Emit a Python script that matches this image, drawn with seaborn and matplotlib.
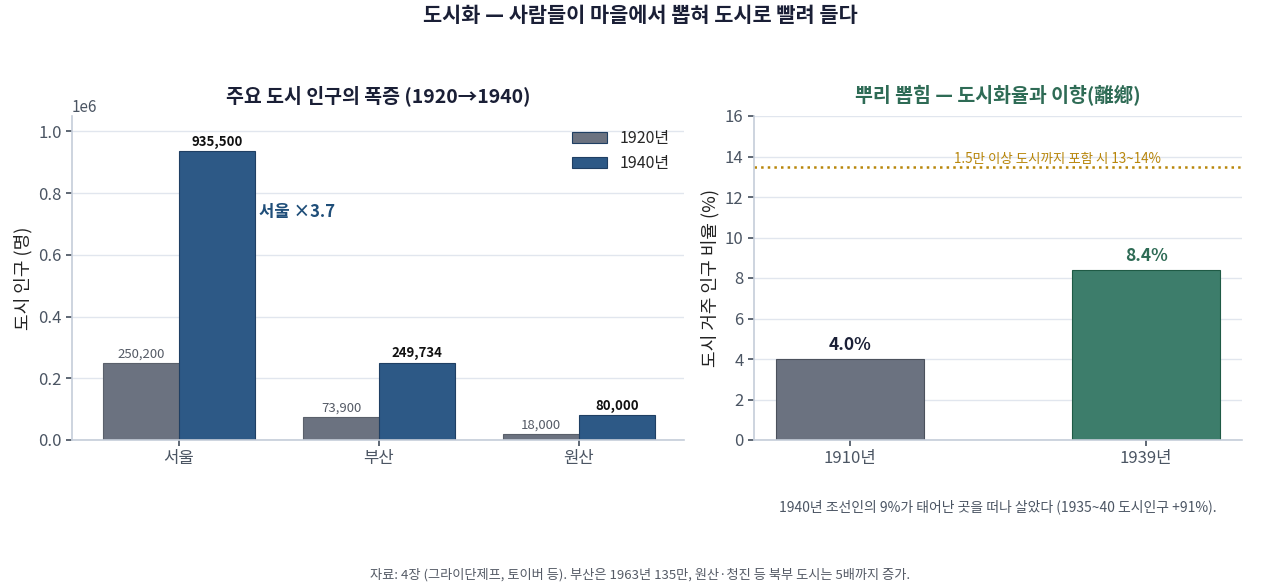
import pandas as pd
import numpy as np
import matplotlib.pyplot as plt
import seaborn as sns

# data
cities = ["서울", "부산", "원산"]
pop_1920 = [250200, 73900, 18000]
pop_1940 = [935500, 249734, 80000]
year_labels = ["1920년", "1940년"]

rate_years = ["1910년", "1939년"]
urban_rate = [4.0, 8.4]
rate_wide = 13.5

sns.set_theme(style="whitegrid")
plt.rcParams['font.family'] = ['Noto Sans CJK KR', 'DejaVu Sans']
plt.rcParams['axes.unicode_minus'] = False

grid_c = "#e1e6ee"
spine_c = "#c5cdd9"
tick_c = "#4b5563"

df = pd.DataFrame({
    "city": cities * 2,
    "year": [year_labels[0]] * 3 + [year_labels[1]] * 3,
    "pop": pop_1920 + pop_1940,
})

fig = plt.figure(figsize=(12.8, 5.83), dpi=100)
ax1 = fig.add_axes([72/1280, 1 - 440/583, 612/1280, 324/583])
ax2 = fig.add_axes([754/1280, 1 - 440/583, 488/1280, 324/583])

pal = {"1920년": "#6b7280", "1940년": "#2d5986"}
sns.barplot(data=df, x="city", y="pop", hue="year", palette=pal, width=0.76,
            ax=ax1, saturation=1, edgecolor="#1f3f63", linewidth=0.8)
# gray bars edge
for p in ax1.patches[:3]:
    p.set_edgecolor("#5a606b")

for p, v in zip(ax1.patches[:3], pop_1920):
    ax1.text(p.get_x() + p.get_width() / 2, v + 8000, f"{v:,}", ha="center",
             va="bottom", fontsize=9.5, color="#555b66")
for p, v in zip(ax1.patches[3:6], pop_1940):
    ax1.text(p.get_x() + p.get_width() / 2, v + 8000, f"{v:,}", ha="center",
             va="bottom", fontsize=9.5, color="#111111", fontweight="bold")

ax1.text(0.4, 0.74e6, "서울 ×3.7", fontsize=12, color="#1f4e79",
         fontweight="bold", ha="left", va="center")

ax1.set_ylim(0, 1.05e6)
ax1.set_xlim(-0.535, 2.525)
ax1.set_xlabel("")
ax1.set_ylabel("도시 인구 (명)", fontsize=13, color="#222")
ax1.set_title("주요 도시 인구의 폭증 (1920→1940)", fontsize=14, fontweight="bold",
              color="#1a1f36", pad=10)
ax1.legend(title=None, frameon=False, loc="upper right", fontsize=11.5,
           handlelength=2.2)

# right panel
rdf = pd.DataFrame({"year": rate_years, "rate": urban_rate})
sns.barplot(data=rdf, x="year", y="rate", hue="year",
            palette=["#6b7280", "#3d7d6b"], width=0.5, ax=ax2, saturation=1,
            legend=False, linewidth=0.8)
edge_cols = ["#4b515c", "#1f5a45"]
lab_cols = ["#1a1f36", "#2e6b55"]
for p, v, ec, lc in zip(ax2.patches, urban_rate, edge_cols, lab_cols):
    p.set_edgecolor(ec)
    ax2.text(p.get_x() + p.get_width() / 2, v + 0.25, f"{v:.1f}%", ha="center",
             va="bottom", fontsize=12.5, fontweight="bold", color=lc)

ax2.axhline(rate_wide, color="#b8860b", linestyle=":", linewidth=1.8)
ax2.text(0.7, rate_wide + 0.05, "1.5만 이상 도시까지 포함 시 13~14%", ha="center",
         va="bottom", fontsize=9.7, color="#b8860b")
ax2.set_ylim(0, 16)
ax2.set_xlim(-0.324, 1.324)
ax2.set_xlabel("")
ax2.set_ylabel("도시 거주 인구 비율 (%)", fontsize=13, color="#222")
ax2.set_title("뿌리 뽑힘 — 도시화율과 이향(離鄕)", fontsize=14, fontweight="bold",
              color="#2e6b55", pad=10)

for ax in (ax1, ax2):
    ax.grid(axis="x", visible=False)
    ax.grid(axis="y", color=grid_c, linewidth=1)
    for s in ("top", "right"):
        ax.spines[s].set_visible(False)
    for s in ("left", "bottom"):
        ax.spines[s].set_color(spine_c)
        ax.spines[s].set_linewidth(1.2)
    ax.tick_params(axis="both", colors=tick_c, labelsize=12, length=4,
                   left=True, bottom=True)
    ax.set_axisbelow(True)
ax1.yaxis.get_offset_text().set_color(tick_c)
ax1.yaxis.get_offset_text().set_fontsize(11)

fig.text(998/1280, 1 - 507/583, "1940년 조선인의 9%가 태어난 곳을 떠나 살았다 (1935~40 도시인구 +91%).",
         ha="center", va="center", fontsize=10, color="#4b5563")
fig.suptitle("도시화 — 사람들이 마을에서 뽑혀 도시로 빨려 들다", fontsize=15,
             fontweight="bold", color="#1a1f36", y=1 - 15/583, va="center")
fig.text(640/1280, 1 - 575/583, "자료: 4장 (그라이단제프, 토이버 등). 부산은 1963년 135만, 원산·청진 등 북부 도시는 5배까지 증가.",
         ha="center", va="center", fontsize=9.5, color="#555b66")

fig.savefig("out.png", dpi=100)
